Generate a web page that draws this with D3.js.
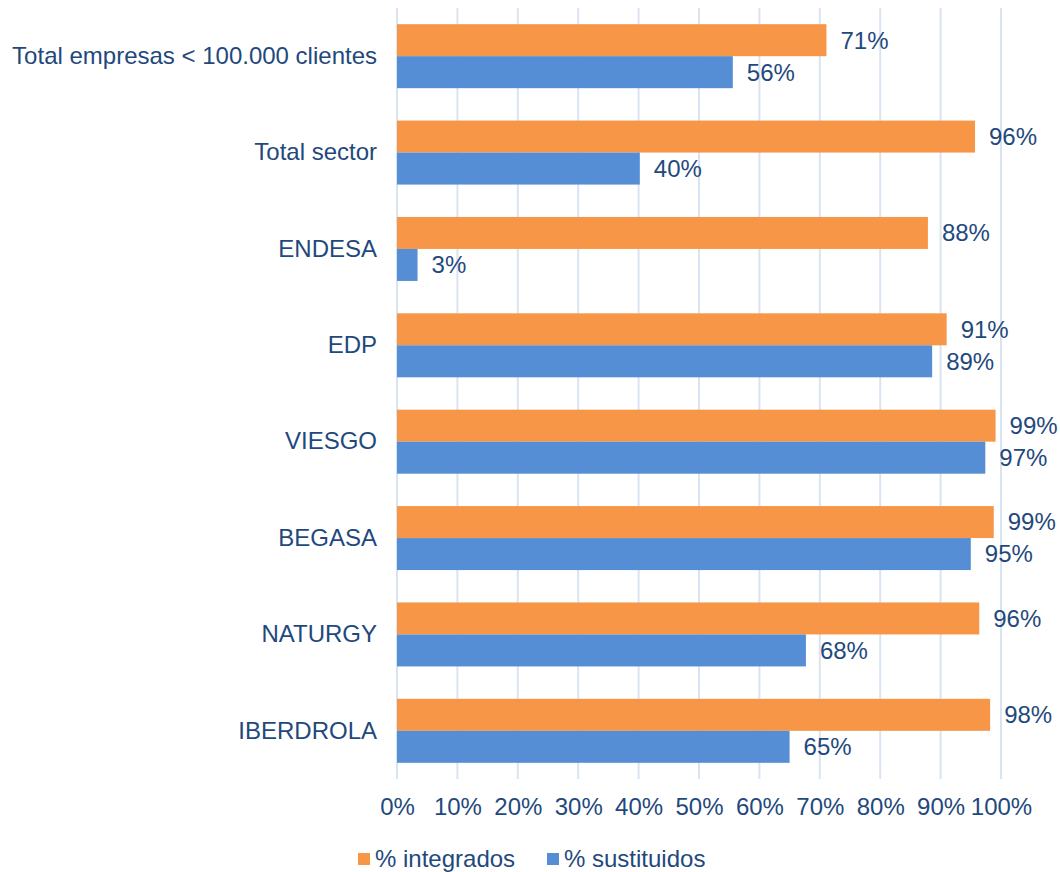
<!DOCTYPE html>
<html>
<head>
<meta charset="utf-8">
<script src="https://cdnjs.cloudflare.com/ajax/libs/d3/7.8.5/d3.min.js"></script>
<style>
  body { margin: 0; background: #fff; }
  svg text { font-family: "Liberation Sans", Arial, sans-serif; fill: #1f497d; }
</style>
</head>
<body>
<div class="chart"></div>
<script>
// categories, top to bottom
var categories = ["Total empresas < 100.000 clientes", "Total sector", "ENDESA", "EDP",
  "VIESGO", "BEGASA", "NATURGY", "IBERDROLA"];
// series values (%)
var integrados = [71.1, 95.7, 87.9, 91.0, 99.1, 98.8, 96.4, 98.2];
var sustituidos = [55.6, 40.2, 3.4, 88.6, 97.4, 95.0, 67.7, 65.0];
var seriesNames = ["% integrados", "% sustituidos"];
var xTicks = [0, 10, 20, 30, 40, 50, 60, 70, 80, 90, 100];

var colors = ["#f79646", "#558ed5"];
var gridColor = "#d9e4f2";

var width = 1060, height = 872;
var margin = { top: 8, right: 59, bottom: 93, left: 397 };
var innerW = width - margin.left - margin.right,
  innerH = height - margin.top - margin.bottom;

var svg = d3.select(".chart").append("svg")
  .attr("width", width).attr("height", height);
var g = svg.append("g").attr("transform", `translate(${margin.left},${margin.top})`);

var x = d3.scaleLinear().domain([0, 100]).range([0, innerW]);
var y0 = d3.scaleBand().domain(categories).range([0, innerH]).paddingInner(0.336).paddingOuter(0.168);
var y1 = d3.scaleBand().domain([0, 1]).range([0, y0.bandwidth()]);

// gridlines
g.selectAll(".grid").data(xTicks).enter().append("line")
  .attr("x1", d => x(d)).attr("x2", d => x(d))
  .attr("y1", 0).attr("y2", innerH)
  .attr("stroke", gridColor).attr("stroke-width", 2);

var rows = categories.map((c, i) => ({ cat: c, vals: [integrados[i], sustituidos[i]] }));

var grp = g.selectAll(".grp").data(rows).enter().append("g")
  .attr("transform", d => `translate(0,${y0(d.cat)})`);

grp.selectAll("rect").data(d => d.vals).enter().append("rect")
  .attr("x", 0).attr("y", (d, i) => y1(i))
  .attr("width", d => x(d)).attr("height", y1.bandwidth())
  .attr("fill", (d, i) => colors[i]);

grp.selectAll(".lbl").data(d => d.vals).enter().append("text")
  .attr("x", d => x(d) + 14).attr("y", (d, i) => y1(i) + y1.bandwidth() / 2)
  .attr("dy", "0.35em").style("font-size", "24px")
  .text(d => Math.round(d) + "%");

// category axis
var yAxis = d3.axisLeft(y0).tickSize(0).tickPadding(20);
g.append("g").call(yAxis).call(a => a.select(".domain").remove())
  .selectAll("text").style("font-size", "24px");

// x axis
var xAxis = d3.axisBottom(x).tickValues(xTicks).tickSize(0).tickPadding(19)
  .tickFormat(d => d + "%");
g.append("g").attr("transform", `translate(0,${innerH})`).call(xAxis)
  .call(a => a.select(".domain").remove())
  .selectAll("text").style("font-size", "24px");

// legend
var legend = svg.append("g").attr("transform", "translate(358,859)");
var lx = [0, 189];
seriesNames.forEach(function (s, i) {
  legend.append("rect").attr("x", lx[i]).attr("y", -6).attr("width", 12).attr("height", 12)
    .attr("fill", colors[i]);
  legend.append("text").attr("x", lx[i] + 17).attr("y", 0).attr("dy", "0.35em")
    .style("font-size", "24px").text(s);
});
</script>
</body>
</html>
